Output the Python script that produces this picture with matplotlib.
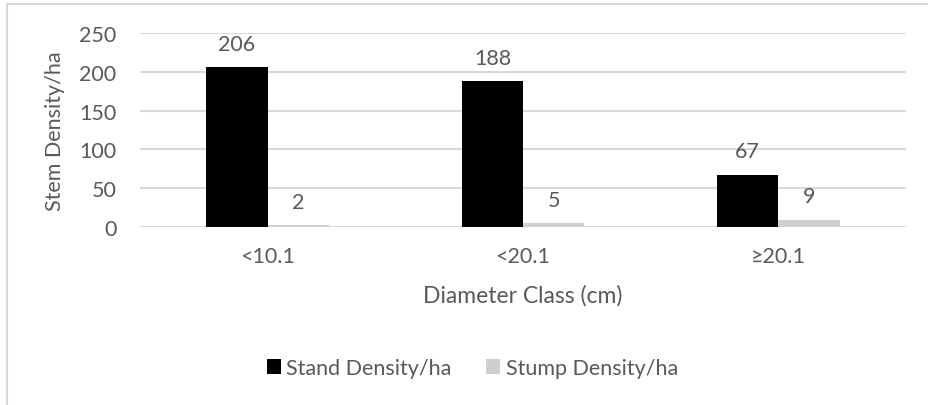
import matplotlib
matplotlib.use("Agg")
import matplotlib.pyplot as plt
from matplotlib.lines import Line2D
from matplotlib.patches import Patch
import numpy as np

categories = ["<10.1", "<20.1", "≥20.1"]
stand_density = [206, 188, 67]
stump_density = [2, 5, 9]
series_names = ["Stand Density/ha", "Stump Density/ha"]
y_ticks = [0, 50, 100, 150, 200, 250]

TEXT = "#595959"
GRID = "#D9D9D9"
STAND = "#000000"
STUMP = "#D0CECE"
FS = 15.5

plt.rcParams["font.family"] = ["Lato", "DejaVu Sans"]

fig = plt.figure(figsize=(9.29, 4.06), dpi=100)
ax = fig.add_axes([140 / 929, 1 - 228 / 406, (906 - 140) / 929, (228 - 34) / 406])

x = np.arange(len(categories))
w = 0.24
b1 = ax.bar(x - w / 2, stand_density, w, color=STAND, zorder=3)
b2 = ax.bar(x + w / 2, stump_density, w, color=STUMP, zorder=3)

for bars, vals in ((b1, stand_density), (b2, stump_density)):
    for rect, v in zip(bars, vals):
        ax.annotate(str(v), (rect.get_x() + rect.get_width() / 2, v),
                    xytext=(0, 17), textcoords="offset points",
                    ha="center", va="center", fontsize=FS, color=TEXT)

ax.set_xlim(-0.5, len(categories) - 0.5)
ax.set_ylim(0, 250)
ax.set_yticks(y_ticks)
ax.set_xticks(x)
ax.set_xticklabels(categories)
ax.yaxis.grid(True, color=GRID, linewidth=1.5, zorder=0)
ax.set_axisbelow(True)
for s in ax.spines.values():
    s.set_visible(False)
ax.tick_params(axis="both", length=0, labelsize=FS, labelcolor=TEXT)
ax.tick_params(axis="y", pad=17)
ax.tick_params(axis="x", pad=14)

ax.set_ylabel("Stem Density/ha", fontsize=FS, color=TEXT, labelpad=10)
ax.set_xlabel("Diameter Class (cm)", fontsize=16.5, color=TEXT, labelpad=13)

handles = [Patch(facecolor=STAND), Patch(facecolor=STUMP)]
fig.legend(handles, series_names, loc="center", ncol=2,
           bbox_to_anchor=(472.5 / 929, 1 - 369 / 406), frameon=False,
           fontsize=FS, labelcolor=TEXT, handlelength=0.65, handleheight=0.65,
           handletextpad=0.25, columnspacing=1.6)

# chart-area border (top and left edges)
fig.add_artist(Line2D([7 / 929, 7 / 929], [0, 1 - 4.5 / 406], transform=fig.transFigure,
                      color=GRID, linewidth=1.5))
fig.add_artist(Line2D([7 / 929, 1], [1 - 4.5 / 406, 1 - 4.5 / 406], transform=fig.transFigure,
                      color=GRID, linewidth=1.5))

fig.savefig("out.png", dpi=100, facecolor="white")
